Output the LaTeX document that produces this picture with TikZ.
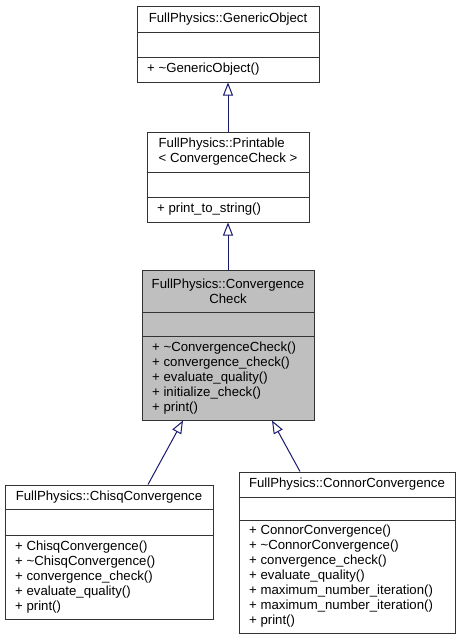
\documentclass[tikz,border=0pt]{standalone}
\usepackage{fontspec}
\setmainfont{Liberation Sans}
\usepackage{tikz}
\usetikzlibrary{calc}
\usetikzlibrary{arrows.meta}
\definecolor{edgeblue}{RGB}{25,25,112}
\definecolor{basegray}{RGB}{191,191,191}
\def\classlines(#1)(#2:#3)% Syntax: (class node) (y of upper line : y of lower line)
{ \draw[boxline] (#1.west |- 0,#2) -- (#1.east |- 0,#2);
  \draw[boxline] (#1.west |- 0,#3) -- (#1.east |- 0,#3); }

\begin{document}
\begin{tikzpicture}[x=1pt, y=-1pt,
	boxline/.style={draw=black!80, line width=1pt},
	classbox/.style={boxline, inner sep=0pt, fill=white},
	classtext/.style={inner sep=0pt, font=\fontsize{13.2pt}{15pt}\selectfont},
	inherit/.style={draw=edgeblue, line width=1pt, -{Triangle[open, length=13pt, width=10pt]}}]
	\useasboundingbox (0,0) rectangle (461,640);
	
	%top part
	\node[classbox, minimum width=182, minimum height=76] (generic) at (228,44) {};
		\classlines(generic)(32:57)
	\node[classbox, minimum width=162, minimum height=90] (printable) at (228,177) {};
		\classlines(printable)(172:197)
	
	%base class, grey
	\node[classbox, fill=basegray, minimum width=172, minimum height=150] (check) at (228,345) {};
		\classlines(check)(312:336)
	
	%derived classes
	\node[classbox, minimum width=208, minimum height=134] (chisq) at (109,552) {};
		\classlines(chisq)(509:535)
	\node[classbox, minimum width=216, minimum height=161] (connor) at (347,552.5) {};
		\classlines(connor)(497:520)
	
	%labels
	\node[classtext] (generic name) at (228,19) {FullPhysics::GenericObject};
	\node[classtext, anchor=west] (generic ops) at (147,69.5) {+ \textasciitilde GenericObject()};
	\node[classtext, align=left] (printable name) at (228,152) {FullPhysics::Printable\\< ConvergenceCheck >};
	\node[classtext, anchor=west] (printable ops) at (157,209.5) {+ print\_to\_string()};
	\node[classtext, align=center] (check name) at (228,291) {FullPhysics::Convergence\\Check};
	\node[classtext, anchor=west, align=left] (check ops) at (152,378) {+ \textasciitilde ConvergenceCheck()\\+ convergence\_check()\\+ evaluate\_quality()\\+ initialize\_check()\\+ print()};
	\node[classtext] (chisq name) at (109,497) {FullPhysics::ChisqConvergence};
	\node[classtext, anchor=west, align=left] (chisq ops) at (15,577) {+ ChisqConvergence()\\+ \textasciitilde ChisqConvergence()\\+ convergence\_check()\\+ evaluate\_quality()\\+ print()};
	\node[classtext] (connor name) at (347,484.5) {FullPhysics::ConnorConvergence};
	\node[classtext, anchor=west, align=left] (connor ops) at (249,576.5) {+ ConnorConvergence()\\+ \textasciitilde ConnorConvergence()\\+ convergence\_check()\\+ evaluate\_quality()\\+ maximum\_number\_iteration()\\+ maximum\_number\_iteration()\\+ print()};
	
	%inheritance arrows
	\draw[inherit] (printable.north) -- (generic.south);
	\draw[inherit] (check.north) -- (printable.south);
	\draw[inherit] ($(chisq.north)+(39,0)$) -- ($(check.south)+(-45,0)$);
	\draw[inherit] ($(connor.north)+(-47,0)$) -- ($(check.south)+(44,0)$);
\end{tikzpicture}
\end{document}
